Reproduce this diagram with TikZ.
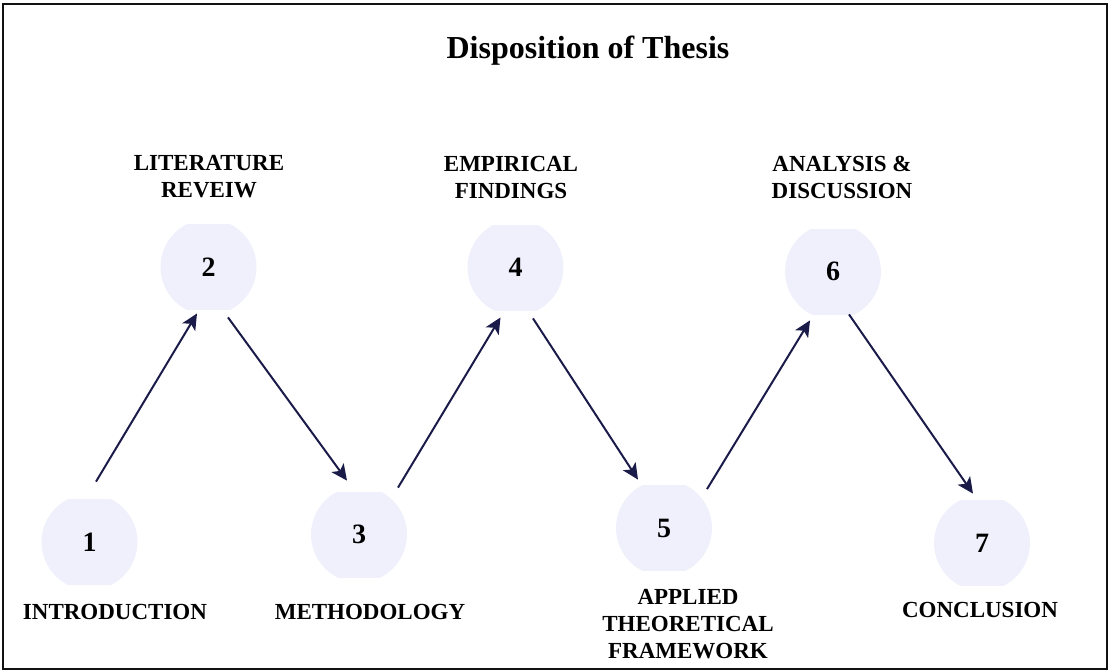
\documentclass[tikz,border=0pt]{standalone}
\usepackage{xcolor}
\usepackage{fontspec}
\setmainfont{Liberation Serif}
\usepackage{tikz}
\usetikzlibrary{arrows.meta, calc, positioning}
\definecolor{bubbleFill}{HTML}{F0F0FC}
\definecolor{arrowNavy}{HTML}{1B1B4A}
\definecolor{frameGray}{HTML}{111111}

\begin{document}
\begin{tikzpicture}[
    x=0.5pt, y=-0.5pt,
    bubble/.style={rectangle, minimum width=48pt, minimum height=42.5pt, inner sep=0pt,
        font=\fontsize{14}{16}\selectfont\bfseries,
        path picture={\fill[bubbleFill] (path picture bounding box.center) circle (24pt);}},
    chapter/.style={align=center, inner sep=0pt, font=\fontsize{11.5}{13.5}\selectfont\bfseries},
    arrow/.style={->, >={Stealth[length=8pt, width=7.5pt, inset=2pt]}, line width=1pt, draw=arrowNavy, fill=arrowNavy},
]
    \useasboundingbox (0,0) rectangle (1108,671);
    \draw[line width=1pt, frameGray] (2.5,3.5) rectangle (1106.5,668.5);

    \node[font=\fontsize{16}{19}\selectfont\bfseries] (title) at (588,51) {Disposition of Thesis};

    % numbered stages
    \node[bubble] (n1) at (89.5,542) {1};
    \node[bubble] (n2) at (208.5,267) {2};
    \node[bubble] (n3) at (359,534.5) {3};
    \node[bubble] (n4) at (515.5,267.5) {4};
    \node[bubble] (n5) at (664,528) {5};
    \node[bubble] (n6) at (833,271.5) {6};
    \node[bubble] (n7) at (982,543) {7};

    % chapter names
    \node[chapter] (l1) at (115,612) {INTRODUCTION};
    \node[chapter] (l2) at (209,177) {LITERATURE\\REVEIW};
    \node[chapter] (l3) at (370,612) {METHODOLOGY};
    \node[chapter] (l4) at (511,177) {EMPIRICAL\\FINDINGS};
    \node[chapter] (l5) at (688,624) {APPLIED\\THEORETICAL\\FRAMEWORK};
    \node[chapter] (l6) at (842,177) {ANALYSIS \&\\DISCUSSION};
    \node[chapter] (l7) at (980,610) {CONCLUSION};

    % zig-zag flow
    \draw[arrow] ($(n1.north)+(6.5,-17.5)$) -- ($(n2.south)+(-11.5,3.5)$);
    \draw[arrow] ($(n2.south)+(19.5,7.5)$) -- ($(n3.north)+(-12,-11)$);
    \draw[arrow] ($(n3.north)+(39,-4)$) -- ($(n4.south)+(-15,7)$);
    \draw[arrow] ($(n4.south)+(17.5,8)$) -- ($(n5.north)+(-26,-5.5)$);
    \draw[arrow] ($(n5.north)+(43,4)$) -- ($(n6.south)+(-23,6)$);
    \draw[arrow] ($(n6.south)+(16,0)$) -- ($(n7.north)+(-9,-6.5)$);
\end{tikzpicture}
\end{document}
